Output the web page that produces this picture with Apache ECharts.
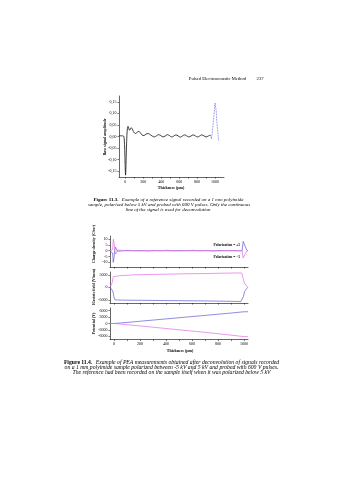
<!DOCTYPE html>
<html><head><meta charset="utf-8">
<script src="https://cdn.jsdelivr.net/npm/echarts@6/dist/echarts.min.js"></script>
<style>html,body{margin:0;padding:0;background:#fff}#c{width:339px;height:480px}</style>
</head><body><div id="c"></div>
<script>
// ---- Figure 11.3 : reference signal ----
const refX = [-70,-40,-20,-12,-6,-2,3,8,13,18,24,30,36,43,50,58,68,78,90,103,118,135,152,170,188,208,230,255,280,300,324,348,372,396,420,444,468,492,516,540,564,588,612,636,660,684,708,732,756,780,804,828,852,876,900,924,948];
const refY = [0.003,0.003,0.002,-0.01,-0.06,-0.12,-0.167,-0.12,-0.05,0.005,0.035,0.044,0.04,0.03,0.027,0.034,0.038,0.032,0.022,0.015,0.013,0.02,0.022,0.015,0.006,0.004,0.01,0.013,0.007,0.002,-0.002,0.003,0.008,0.004,-0.002,0.002,0.008,0.004,-0.002,0.002,0.007,0.003,-0.003,0.002,0.007,0.003,-0.002,0.002,0.007,0.003,-0.002,0.002,0.007,0.003,-0.002,0.002,0.006];
const refTailX = [948,960,970,978,985,992,1000,1007,1013,1019,1026,1033,1040];
const refTailY = [0.006,-0.01,0.02,0.05,0.08,0.11,0.145,0.14,0.11,0.07,0.04,0.01,-0.02];
const refYTicks = [-0.15,-0.1,-0.05,0,0.05,0.1,0.15];
const refXTicks = [0,200,400,600,800,1000];

// ---- Figure 11.4 : charge density, field, potential ----
const cdPosX = [-30,-18,-10,-4,2,8,14,20,28,40,60,110,160,210,260,310,360,410,460,510,560,610,660,710,760,810,860,910,960,985,993,1020,1030];
const cdPosY = [0,0,1,9.8,6,-1,-3,-1.5,0.5,0.2,0.3,-0.2,0.2,-0.3,0.2,-0.1,0.3,-0.2,0.1,-0.3,0.2,-0.2,0.3,-0.1,0.2,-0.3,0.2,-0.2,0.1,0,-6.3,-0.5,0];
const cdNegX = [-30,-18,-10,-5,1,7,13,20,28,40,60,110,160,210,260,310,360,410,460,510,560,610,660,710,760,810,860,910,960,985,993,1020,1030];
const cdNegY = [0,-0.5,-2,-10,-6,1,3,1.5,-0.5,-0.2,-0.2,0.3,-0.2,0.2,-0.3,0.2,-0.2,0.3,-0.2,0.2,-0.1,0.3,-0.2,0.2,-0.3,0.2,-0.1,0.2,-0.2,0,8,0.5,0];
const efPosX = [-30,-22,-12,-5,10,50,160,300,400,550,700,850,960,982,990,1002,1028];
const efPosY = [0,0,2000,4300,4450,4650,5000,5150,5250,5400,5500,5650,5750,5700,4000,1700,0];
const efNegX = [-30,-18,-8,0,8,30,100,300,500,700,900,975,986,996,1004,1028];
const efNegY = [0,0,-1500,-3800,-5000,-5100,-5150,-5250,-5350,-5450,-5600,-5700,-5500,-3500,-1600,0];
const potPosX = [-30,0,50,100,200,300,400,500,600,700,800,900,1000,1030];
const potPosY = [0,0,-250,-550,-1150,-1750,-2350,-2950,-3550,-4150,-4800,-5450,-6150,-6150];
const potNegX = [-30,0,50,100,200,300,400,500,600,700,800,900,1000,1030];
const potNegY = [0,0,250,500,1050,1600,2150,2700,3250,3800,4350,4900,5500,5500];
const cdTicks = [-10,-5,0,5,10];
const efTicks = [-5000,0,5000];
const potTicks = [-6000,-3000,0,3000,6000];
const thickTicks = [0,100,200,300,400,500,600,700,800,900,1000];
const thickLabels = [0,200,400,600,800,1000];

const zip = (a, b) => a.map((v, i) => [v, b[i]]);
const PINK = '#e36de3', BLUE = '#5b5bd6';
const SERIF = '"Liberation Serif", "DejaVu Serif", serif';
const FS = 4;
const plain = v => String(v);

function xAx(gi, min, max, tickVals, labelVals) {
  return {
    type: 'value', gridIndex: gi, min, max,
    axisLine: {show: true, onZero: false, lineStyle: {color: '#000', width: 0.6}},
    axisTick: {show: true, length: 1.6, lineStyle: {color: '#000', width: 0.5}, customValues: tickVals},
    axisLabel: labelVals ? {show: true, customValues: labelVals, fontSize: FS, fontFamily: SERIF, color: '#000', margin: 2.5, formatter: plain} : {show: false},
    splitLine: {show: false}
  };
}
function yAx(gi, min, max, vals, fmt) {
  return {
    type: 'value', gridIndex: gi, min, max,
    axisLine: {show: true, onZero: false, lineStyle: {color: '#000', width: 0.6}},
    axisTick: {show: true, length: 1.6, lineStyle: {color: '#000', width: 0.5}, customValues: vals},
    axisLabel: {show: true, customValues: vals, fontSize: FS, fontFamily: SERIF, color: '#000', margin: 2.5, formatter: fmt || plain},
    splitLine: {show: false}
  };
}
function line(xi, data, color, extra) {
  return Object.assign({type: 'line', xAxisIndex: xi, yAxisIndex: xi, data, symbol: 'none', animation: false,
    lineStyle: {color, width: 0.7}}, extra || {});
}
function txt(text, x, y, font, align) {
  return {type: 'text', x, y, style: {text, x: 0, y: 0, font, fill: '#000', textAlign: align || 'center', align: align || 'center', textVerticalAlign: 'middle', verticalAlign: 'middle'}};
}
function vtxt(text, x, y, font) {
  const t = txt(text, x, y, font);
  t.rotation = Math.PI / 2;
  return t;
}
function richLine(bold, rest, x, y, size) {
  return {type: 'text', x, y, style: {
    text: '{b|' + bold + '} {i|' + rest + '}', x: 0, y: 0, textAlign: 'center', align: 'center', textVerticalAlign: 'middle', verticalAlign: 'middle',
    rich: {b: {font: 'bold ' + size + 'px ' + SERIF, fill: '#000'}, i: {font: 'italic ' + size + 'px ' + SERIF, fill: '#000'}}
  }};
}

const capFS = 5;
const capFS2 = 5.7;
const ital = 'italic ' + capFS + 'px ' + SERIF;
const ital2 = 'italic ' + capFS2 + 'px ' + SERIF;
const option = {
  backgroundColor: '#fff',
  animation: false,
  grid: [
    {left: 119, top: 96, width: 105, height: 81},
    {left: 110, top: 236, width: 138, height: 31},
    {left: 110, top: 272, width: 138, height: 31},
    {left: 110, top: 308, width: 138, height: 31.5}
  ],
  xAxis: [
    xAx(0, -70, 1100, [0,100,200,300,400,500,600,700,800,900,1000], refXTicks),
    xAx(1, -30, 1030, thickTicks, null),
    xAx(2, -30, 1030, thickTicks, null),
    xAx(3, -30, 1030, thickTicks, thickLabels)
  ],
  yAxis: [
    yAx(0, -0.175, 0.175, refYTicks, v => v.toFixed(2).replace('.', ',')),
    yAx(1, -14, 12.6, cdTicks),
    yAx(2, -6280, 6120, efTicks),
    yAx(3, -7500, 7265, potTicks)
  ],
  series: [
    line(0, zip(refX, refY), '#111', {smooth: 0.3, lineStyle: {color: '#111', width: 0.8}}),
    line(0, zip(refTailX, refTailY), BLUE, {lineStyle: {color: BLUE, width: 0.8, type: 'dotted'}}),
    line(1, zip(cdNegX, cdNegY), BLUE),
    line(1, zip(cdPosX, cdPosY), PINK),
    line(2, zip(efNegX, efNegY), BLUE),
    line(2, zip(efPosX, efPosY), PINK),
    line(3, zip(potNegX, potNegY), BLUE),
    line(3, zip(potPosX, potPosY), PINK)
  ],
  graphic: [
    txt('Pulsed Electroacoustic Method', 246, 79, '4.6px ' + SERIF, 'right'),
    txt('237', 263.5, 79, '4.6px ' + SERIF, 'right'),
    vtxt('Raw signal amplitude', 104.5, 137, 'bold 4px ' + SERIF),
    txt('Thickness (µm)', 171, 188, 'bold 4px ' + SERIF),
    richLine('Figure 11.3.', 'Example of a reference signal recorded on a 1 mm polyimide', 168.5, 200, capFS),
    txt('sample, polarized below 5 kV and probed with 600 V pulses. Only the continuous', 169, 205, ital),
    txt('line of the signal is used for deconvolution', 168, 210, ital),
    vtxt('Charge density (C/m³)', 93.5, 244, 'bold 4px ' + SERIF),
    vtxt('Electric field (V/mm)', 93.5, 287, 'bold 4px ' + SERIF),
    vtxt('Potential (V)', 93.5, 323.5, 'bold 4px ' + SERIF),
    txt('Polarization = +5', 240, 245.5, 'bold 3.6px ' + SERIF, 'right'),
    txt('Polarization = −5', 240, 256.7, 'bold 3.6px ' + SERIF, 'right'),
    txt('Thickness (µm)', 180, 351, 'bold 4px ' + SERIF),
    richLine('Figure 11.4.', 'Example of PEA measurements obtained after deconvolution of signals recorded', 171.5, 362.8, capFS2),
    txt('on a 1 mm polyimide sample polarized between -5 kV and 5 kV and probed with 600 V pulses.', 171.5, 367.8, ital2),
    txt('The reference had been recorded on the sample itself when it was polarized below 5 kV', 171.5, 372.8, ital2)
  ]
};
const chart = echarts.init(document.getElementById('c'), null, {renderer: 'canvas'});
chart.setOption(option);
</script>
</body></html>
